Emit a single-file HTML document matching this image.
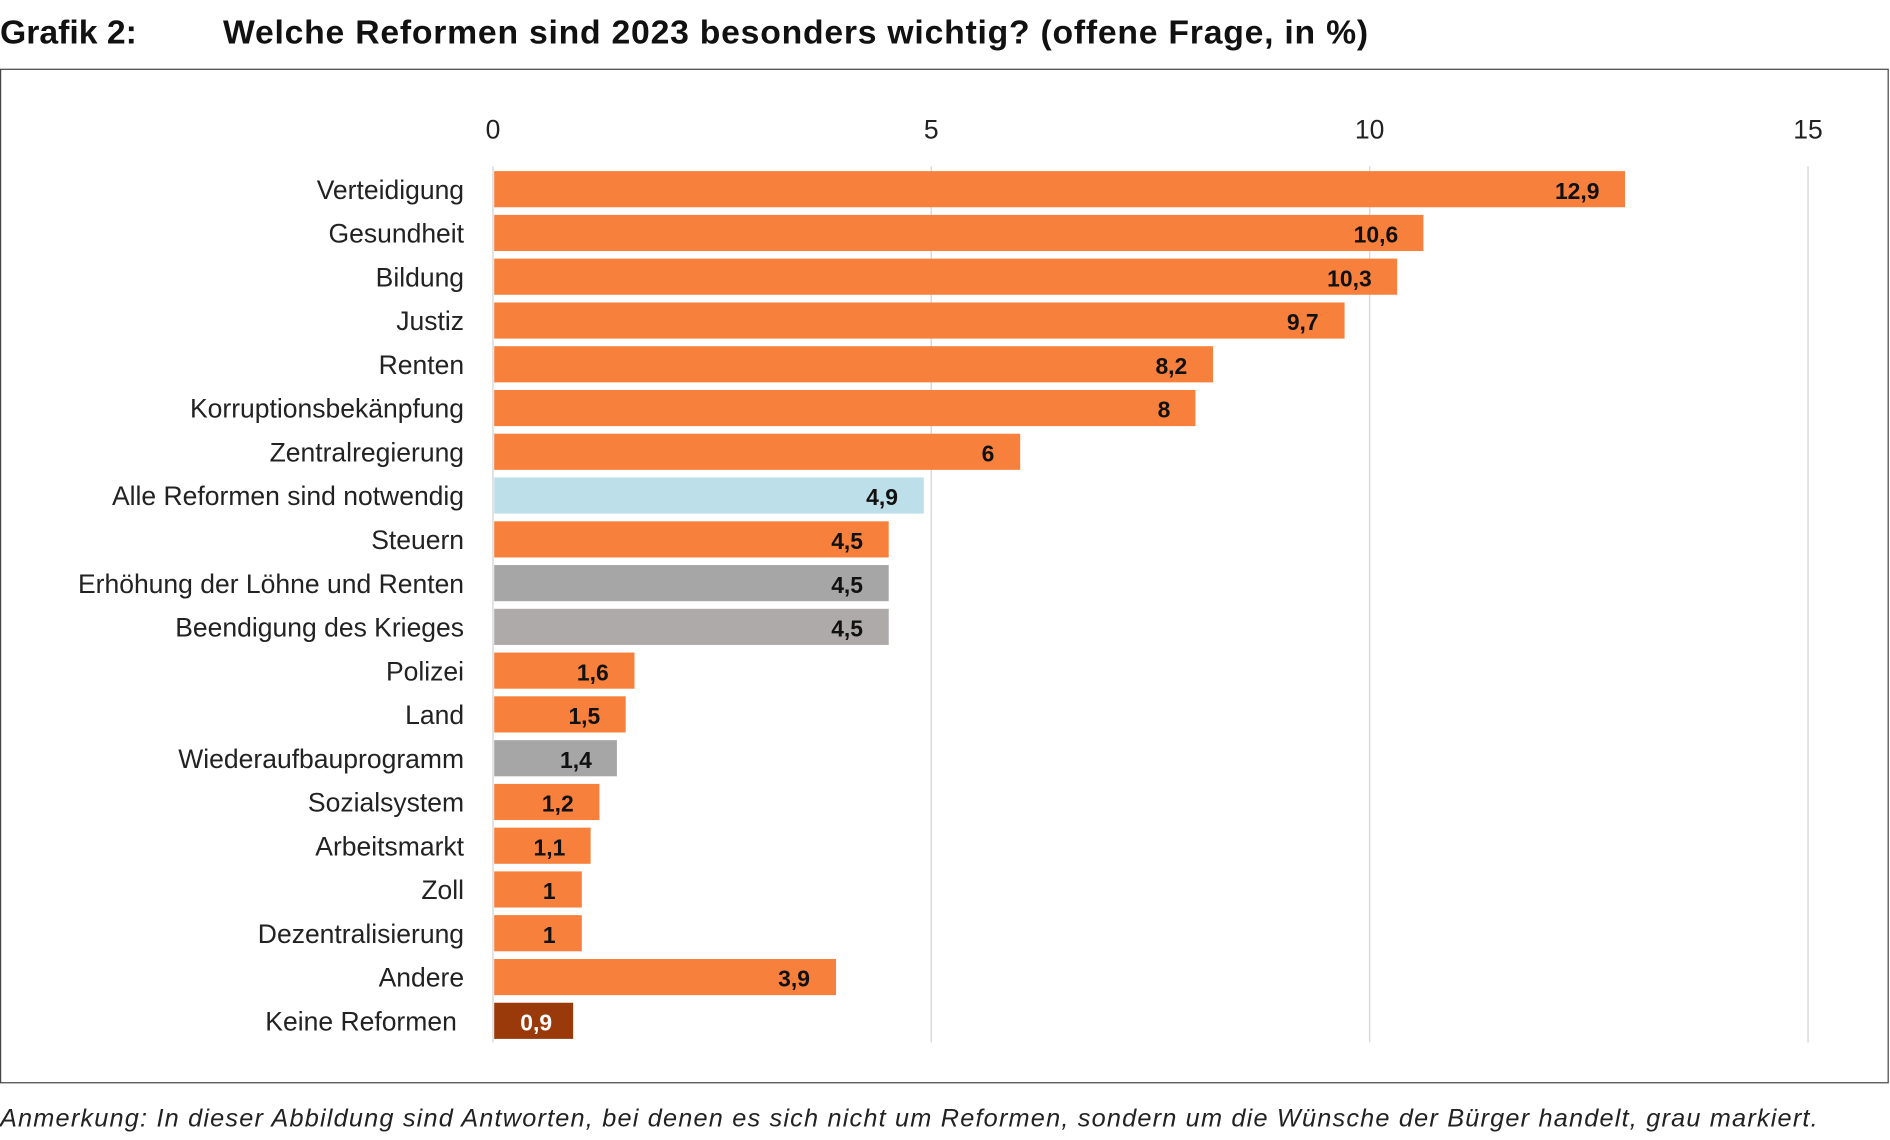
<!DOCTYPE html>
<html><head><meta charset="utf-8"><style>html,body{margin:0;padding:0;background:#fff;}svg{display:block;}</style></head>
<body>
<svg width="1890" height="1140" viewBox="0 0 1568 946" preserveAspectRatio="none" xmlns="http://www.w3.org/2000/svg" font-family="Liberation Sans, sans-serif">
<rect width="1568" height="946" fill="#fff"/>
<text x="0" y="36" font-size="28" font-weight="bold" fill="#111">Grafik 2:</text>
<text x="185" y="36" font-size="28" font-weight="bold" fill="#111" textLength="950">Welche Reformen sind 2023 besonders wichtig? (offene Frage, in %)</text>
<rect x="0.5" y="57.5" width="1566" height="841" fill="none" stroke="#444" stroke-width="1"/>
<g stroke="#d9d9d9" stroke-width="1.2">
<line x1="409" y1="138" x2="409" y2="865"/>
<line x1="772.6" y1="138" x2="772.6" y2="865"/>
<line x1="1136.3" y1="138" x2="1136.3" y2="865"/>
<line x1="1500" y1="138" x2="1500" y2="865"/>
</g>
<g font-size="22" fill="#222" text-anchor="middle">
<text x="409" y="115">0</text><text x="772.6" y="115">5</text><text x="1136.3" y="115">10</text><text x="1500" y="115">15</text>
</g>
<g>
<rect x="410" y="142" width="938.2" height="30" fill="#F7803C"/>
<rect x="410" y="178.3" width="770.9" height="30" fill="#F7803C"/>
<rect x="410" y="214.6" width="749.1" height="30" fill="#F7803C"/>
<rect x="410" y="251" width="705.5" height="30" fill="#F7803C"/>
<rect x="410" y="287.3" width="596.4" height="30" fill="#F7803C"/>
<rect x="410" y="323.6" width="581.8" height="30" fill="#F7803C"/>
<rect x="410" y="359.9" width="436.4" height="30" fill="#F7803C"/>
<rect x="410" y="396.2" width="356.4" height="30" fill="#BDDFE9"/>
<rect x="410" y="432.6" width="327.3" height="30" fill="#F7803C"/>
<rect x="410" y="468.9" width="327.3" height="30" fill="#A6A6A6"/>
<rect x="410" y="505.2" width="327.3" height="30" fill="#AFAAAA"/>
<rect x="410" y="541.5" width="116.4" height="30" fill="#F7803C"/>
<rect x="410" y="577.8" width="109.1" height="30" fill="#F7803C"/>
<rect x="410" y="614.2" width="101.8" height="30" fill="#A6A6A6"/>
<rect x="410" y="650.5" width="87.3" height="30" fill="#F7803C"/>
<rect x="410" y="686.8" width="80" height="30" fill="#F7803C"/>
<rect x="410" y="723.1" width="72.7" height="30" fill="#F7803C"/>
<rect x="410" y="759.4" width="72.7" height="30" fill="#F7803C"/>
<rect x="410" y="795.8" width="283.6" height="30" fill="#F7803C"/>
<rect x="410" y="832.1" width="65.5" height="30" fill="#9A3A0A"/>
</g>
<g font-size="22" fill="#222" text-anchor="end">
<text x="385" y="165">Verteidigung</text>
<text x="385" y="201.3">Gesundheit</text>
<text x="385" y="237.6">Bildung</text>
<text x="385" y="274">Justiz</text>
<text x="385" y="310.3">Renten</text>
<text x="385" y="346.6">Korruptionsbekänpfung</text>
<text x="385" y="382.9">Zentralregierung</text>
<text x="385" y="419.2">Alle Reformen sind notwendig</text>
<text x="385" y="455.6">Steuern</text>
<text x="385" y="491.9">Erhöhung der Löhne und Renten</text>
<text x="385" y="528.2">Beendigung des Krieges</text>
<text x="385" y="564.5">Polizei</text>
<text x="385" y="600.8">Land</text>
<text x="385" y="637.2">Wiederaufbauprogramm</text>
<text x="385" y="673.5">Sozialsystem</text>
<text x="385" y="709.8">Arbeitsmarkt</text>
<text x="385" y="746.1">Zoll</text>
<text x="385" y="782.4">Dezentralisierung</text>
<text x="385" y="818.8">Andere</text>
<text x="379" y="855.1">Keine Reformen</text>
</g>
<g font-size="19" font-weight="bold" fill="#111" text-anchor="end">
<text x="1327" y="165">12,9</text>
<text x="1160" y="201.3">10,6</text>
<text x="1138" y="237.6">10,3</text>
<text x="1094" y="274">9,7</text>
<text x="985" y="310.3">8,2</text>
<text x="971" y="346.6">8</text>
<text x="825" y="382.9">6</text>
<text x="745" y="419.2">4,9</text>
<text x="716" y="455.6">4,5</text>
<text x="716" y="491.9">4,5</text>
<text x="716" y="528.2">4,5</text>
<text x="505" y="564.5">1,6</text>
<text x="498" y="600.8">1,5</text>
<text x="491" y="637.2">1,4</text>
<text x="476" y="673.5">1,2</text>
<text x="469" y="709.8">1,1</text>
<text x="461" y="746.1">1</text>
<text x="461" y="782.4">1</text>
<text x="672" y="818.8">3,9</text>
<text x="458" y="855.1" fill="#fff">0,9</text>
</g>
<text x="0" y="935" font-size="21" font-style="italic" fill="#222" textLength="1508">Anmerkung: In dieser Abbildung sind Antworten, bei denen es sich nicht um Reformen, sondern um die Wünsche der Bürger handelt, grau markiert.</text>
</svg>
</body></html>
